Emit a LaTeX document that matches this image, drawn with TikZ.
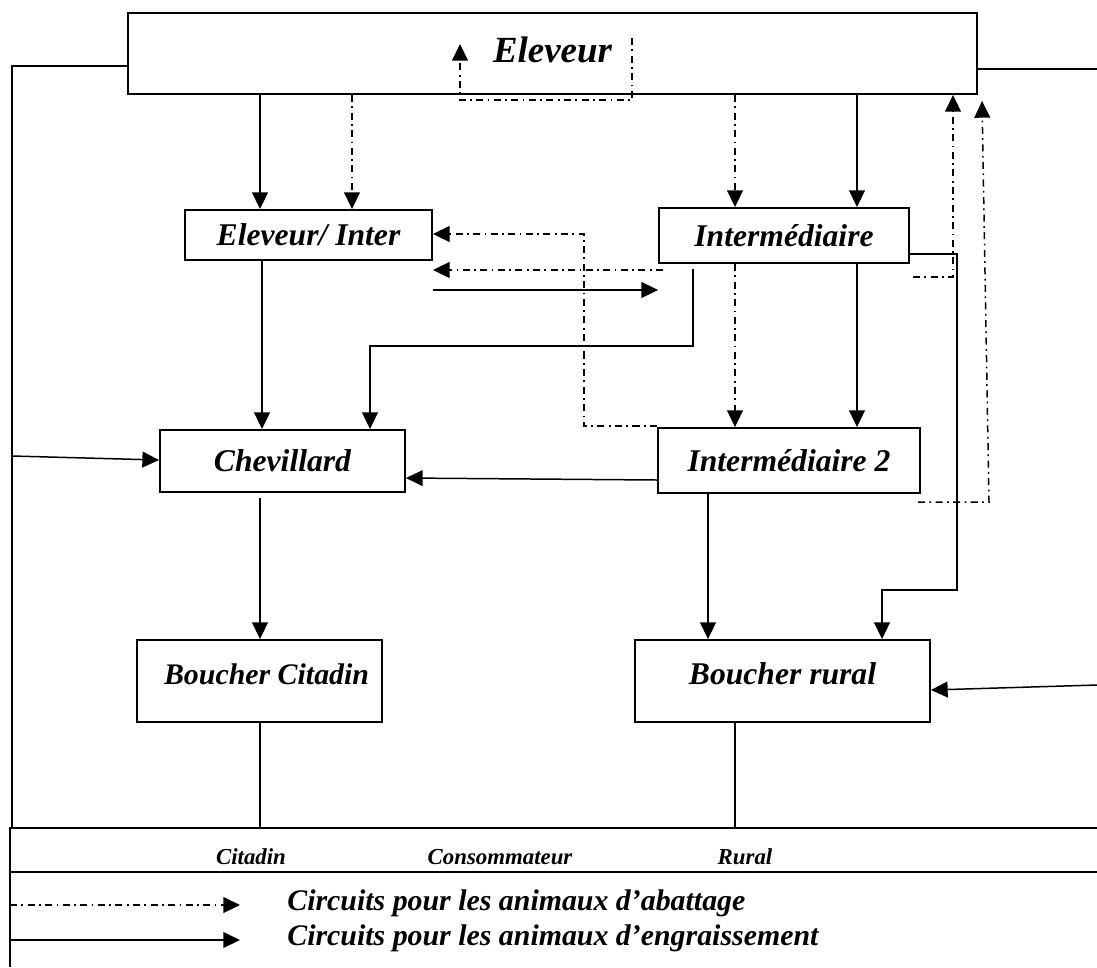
\documentclass[tikz,border=0pt]{standalone}
\usepackage{fontspec}
\setmainfont{Liberation Serif}
\usetikzlibrary{arrows.meta}
\tikzset{
  box/.style={draw, line width=1.1pt, inner sep=0pt, font=\bfseries\itshape\fontsize{18}{20}\selectfont},
  flow/.style={line width=0.85pt, -{Triangle[length=9.5pt,width=9pt]}},
  abat/.style={flow, dash pattern=on 4pt off 2.5pt on 1pt off 2.5pt},
  plain/.style={line width=0.85pt},
  lgd/.style={inner sep=0pt, font=\bfseries\itshape\fontsize{17}{19}\selectfont, anchor=west},
  row/.style={inner sep=0pt, font=\bfseries\itshape\fontsize{13}{15}\selectfont}
}

\begin{document}
\begin{tikzpicture}[x=0.02cm, y=-0.02cm]
  \useasboundingbox (0,0) rectangle (1097,967);
  \node[box, minimum width=16.98cm, minimum height=1.62cm,
        font=\bfseries\itshape\fontsize{21}{24}\selectfont] (eleveur) at (552.5,53.5) {\raisebox{4pt}{Eleveur}};
  \node[box, minimum width=4.94cm, minimum height=1.0cm]  (elint)   at (308.5,235)   {Eleveur/ Inter};
  \node[box, minimum width=5.0cm,  minimum height=1.1cm]  (inter)   at (784,235.5)   {Intermédiaire};
  \node[box, minimum width=4.9cm,  minimum height=1.24cm] (chev)    at (282.5,461)   {Chevillard};
  \node[box, minimum width=5.24cm, minimum height=1.3cm]  (inter2)  at (789,460.5)   {Intermédiaire 2};
  \node[box, minimum width=4.9cm,  minimum height=1.64cm,
        font=\bfseries\itshape\fontsize{17}{19}\selectfont] (citadin) at (259.5,681) {\hspace{8pt}\raisebox{8pt}{Boucher Citadin}};
  \node[box, minimum width=5.9cm,  minimum height=1.64cm] (rural)   at (782.5,681)   {\raisebox{8pt}{Boucher rural}};

  \coordinate (lt) at (12,66);
  \coordinate (lb) at (12,828);
  \coordinate (rt) at (1097,69);
  \coordinate (rb) at (1097,685);
  \coordinate (bl) at (10,828);
  \coordinate (br) at (1097,828);

  \draw[plain] (eleveur.west |- lt) -- (lt) -- (lb);
  \draw[plain] (eleveur.east |- rt) -- (rt);

  \draw[flow] (eleveur.south -| 260,0) -- (elint.north -| 260,0);
  \draw[abat] (eleveur.south -| 352,0) -- (elint.north -| 352,0);
  \draw[abat] (eleveur.south -| 735,0) -- (inter.north -| 735,0);
  \draw[flow] (eleveur.south -| 857,0) -- (inter.north -| 857,0);
  \draw[abat] (632,38) -- (632,100) -- (460,100) -- (460,44);
  \draw[abat] (913,277) -- (953,277) -- (eleveur.south -| 953,0);
  \draw[abat] (918,502) -- (989,502) -- (982,101);

  \draw[flow] (inter.east |- 0,254) -- (957,254) -- (957,590) -- (882,590) -- (rural.north -| 882,0);
  \draw[abat] (inter.south -| 735,0) -- (inter2.north -| 735,0);
  \draw[flow] (inter.south -| 857,0) -- (inter2.north -| 857,0);
  \draw[flow, shorten <=3pt] (inter.south -| 693,0) -- (693,346) -- (370,346) -- (chev.north -| 370,0);
  \draw[flow] (elint.south -| 262,0) -- (chev.north -| 262,0);
  \draw[abat] (663,270) -- (elint.east |- 0,270);
  \draw[abat] (inter2.west |- 0,426) -- (584,426) -- (584,234) -- (elint.east |- 0,234);
  \draw[flow] (elint.east |- 0,290) -- (inter.west |- 0,290);
  \draw[flow] (inter2.west |- 0,480) -- (chev.east |- 0,478);
  \draw[flow] (12,456) -- (chev.west |- 0,460);
  \draw[flow, shorten <=3pt] (chev.south -| 260,0) -- (citadin.north -| 260,0);
  \draw[flow] (inter2.south -| 708,0) -- (rural.north -| 708,0);
  \draw[flow] (rb) -- (rural.east |- 0,690);
  \draw[plain] (citadin.south -| 260,0) -- (260,828);
  \draw[plain] (rural.south -| 735,0) -- (735,828);

  \draw[line width=1.1pt] (br) -- (bl) -- (10,967);
  \draw[line width=1.1pt] (10,872) -- (1097,872);
  \node[row] (citd) at (251,857) {Citadin};
  \node[row] (cons) at (500,857) {Consommateur};
  \node[row] (rurl) at (745,857) {Rural};

  \draw[abat] (10,905) -- (240,905);
  \draw[flow] (10,940) -- (240,940);
  \node[lgd] (labat) at (287,903) {Circuits pour les animaux d’abattage};
  \node[lgd] (lengr) at (287,938) {Circuits pour les animaux d’engraissement};
\end{tikzpicture}
\end{document}
